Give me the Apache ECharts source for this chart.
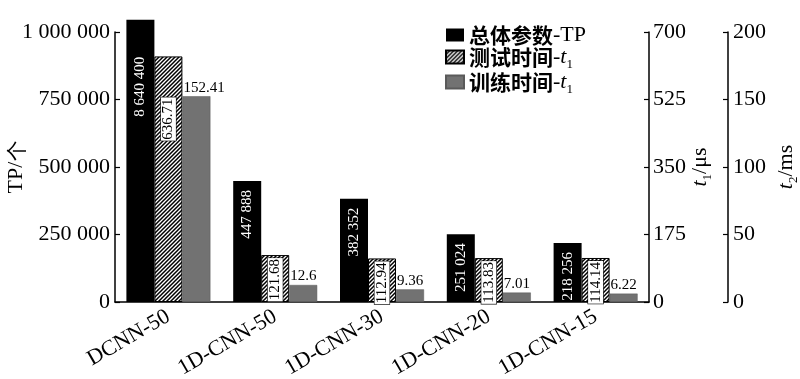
<!DOCTYPE html>
<html>
<head>
<meta charset="utf-8">
<script src="https://cdn.jsdelivr.net/npm/echarts@6/dist/echarts.min.js"></script>
<style>html,body{margin:0;padding:0;background:#fff}#c{width:800px;height:379px}</style>
</head>
<body>
<div id="c"></div>
<script>
const categories = ['DCNN-50', '1D-CNN-50', '1D-CNN-30', '1D-CNN-20', '1D-CNN-15'];
const tpValues = [8640400, 447888, 382352, 251024, 218256];
const testTimes = [636.71, 121.68, 112.94, 113.83, 114.14];
const trainTimes = [152.41, 12.6, 9.36, 7.01, 6.22];
const seriesNames = ['总体参数-TP', '测试时间-t1', '训练时间-t1'];
const tpTicks = [0, 250000, 500000, 750000, 1000000];
const t1Ticks = [0, 175, 350, 525, 700];
const t2Ticks = [0, 50, 100, 150, 200];
const tpDrawCap = 1045000; // off-scale bar is drawn truncated just above the axis top

const SERIF = '"Liberation Serif", "Times New Roman", serif';
const CJK = '"Noto Sans CJK SC", sans-serif';

function fmtSpace(v) { return String(v).replace(/\B(?=(\d{3})+(?!\d))/g, ' '); }

function makeHatch() {
  const s = 4;
  const c = document.createElement('canvas');
  c.width = s; c.height = s;
  const g = c.getContext('2d');
  g.fillStyle = '#fff'; g.fillRect(0, 0, s, s);
  g.strokeStyle = '#000'; g.lineWidth = 1.5;
  g.beginPath();
  g.moveTo(0, s); g.lineTo(s, 0);
  g.moveTo(-1, 1); g.lineTo(1, -1);
  g.moveTo(s - 1, s + 1); g.lineTo(s + 1, s - 1);
  g.stroke();
  return c;
}
const hatch = { image: makeHatch(), repeat: 'repeat' };

const chart = echarts.init(document.getElementById('c'), null, { renderer: 'canvas' });

const axisCommon = {
  type: 'value',
  axisLine: { show: true, lineStyle: { color: '#000', width: 1.5 } },
  axisTick: { show: true, inside: true, length: 5, lineStyle: { color: '#000', width: 1.2 } },
  splitLine: { show: false },
  axisLabel: { color: '#000', fontFamily: SERIF, fontSize: 22 },
  nameLocation: 'middle',
  nameRotate: 90,
  nameMoveOverlap: false
};

const legendRich = {
  cn: { fontFamily: CJK, fontWeight: 'bold', fontSize: 21, color: '#000', lineHeight: 28 },
  en: { fontFamily: SERIF, fontSize: 22, color: '#000', lineHeight: 28 },
  it: { fontFamily: SERIF, fontStyle: 'italic', fontSize: 22, color: '#000', lineHeight: 28 },
  sub: { fontFamily: SERIF, fontSize: 13, color: '#000', lineHeight: 13, verticalAlign: 'bottom' }
};

const nameRich = {
  it: { fontFamily: SERIF, fontStyle: 'italic', fontSize: 22, color: '#000', lineHeight: 28 },
  sub: { fontFamily: SERIF, fontSize: 13, color: '#000', lineHeight: 13, verticalAlign: 'bottom' },
  n: { fontFamily: SERIF, fontSize: 22, color: '#000', lineHeight: 28 }
};

const option = {
  animation: false,
  backgroundColor: '#fff',
  grid: { left: 115, right: 151, top: 32, bottom: 77, containLabel: false, outerBoundsMode: 'none' },
  legend: {
    orient: 'vertical',
    left: 440,
    top: 19,
    itemWidth: 18,
    itemHeight: 13,
    itemGap: 0,
    icon: 'rect',
    data: seriesNames,
    formatter: function (name) {
      const parts = name.split('-');
      if (parts[1] === 'TP') return '{cn|' + parts[0] + '}{en|-TP}';
      return '{cn|' + parts[0] + '}{en|-}{it|t}{sub|1}';
    },
    textStyle: { rich: legendRich }
  },
  xAxis: {
    type: 'category',
    data: categories,
    axisLine: { show: true, onZero: false, lineStyle: { color: '#000', width: 1.5 } },
    axisTick: { show: false },
    axisLabel: { color: '#000', fontFamily: SERIF, fontSize: 22, rotate: 30, margin: 13, interval: 0 }
  },
  yAxis: [
    Object.assign({}, axisCommon, {
      position: 'left',
      min: tpTicks[0], max: tpTicks[tpTicks.length - 1], interval: tpTicks[1] - tpTicks[0],
      axisLabel: Object.assign({}, axisCommon.axisLabel, { margin: 5, formatter: fmtSpace }),
      name: '{a|TP/}{b|个}',
      nameGap: 88,
      nameTextStyle: { rich: {
        a: { fontFamily: SERIF, fontSize: 22, color: '#000' },
        b: { fontFamily: CJK, fontSize: 21, color: '#000' }
      } }
    }),
    Object.assign({}, axisCommon, {
      position: 'right',
      min: t1Ticks[0], max: t1Ticks[t1Ticks.length - 1], interval: t1Ticks[1] - t1Ticks[0],
      axisLabel: Object.assign({}, axisCommon.axisLabel, { margin: 4 }),
      name: '{it|t}{sub|1}{n|/μs}',
      nameGap: 37,
      nameTextStyle: { rich: nameRich }
    }),
    Object.assign({}, axisCommon, {
      position: 'right',
      offset: 79,
      min: t2Ticks[0], max: t2Ticks[t2Ticks.length - 1], interval: t2Ticks[1] - t2Ticks[0],
      axisLabel: Object.assign({}, axisCommon.axisLabel, { margin: 5 }),
      name: '{it|t}{sub|2}{n|/ms}',
      nameGap: 44,
      nameTextStyle: { rich: nameRich }
    })
  ],
  series: [
    {
      name: seriesNames[0],
      type: 'bar',
      yAxisIndex: 0,
      barWidth: 28,
      barGap: '0%',
      clip: false,
      itemStyle: { color: '#000' },
      data: tpValues.map(function (v) {
        const capped = v > tpDrawCap;
        return { value: Math.min(v, tpDrawCap), label: { distance: capped ? 37 : 9 } };
      }),
      label: {
        show: true,
        position: 'insideTop',
        rotate: 90,
        align: 'right',
        verticalAlign: 'middle',
        color: '#fff',
        fontFamily: SERIF,
        fontSize: 15,
        formatter: function (p) { return fmtSpace(tpValues[p.dataIndex]); }
      }
    },
    {
      name: seriesNames[1],
      type: 'bar',
      yAxisIndex: 1,
      barWidth: 28,
      barGap: '0%',
      itemStyle: { color: hatch, borderColor: '#000', borderWidth: 1 },
      data: testTimes.map(function (v, i) {
        return { value: v, label: { distance: i === 0 ? 41 : 3 } };
      }),
      label: {
        show: true,
        position: 'insideTop',
        rotate: 90,
        align: 'right',
        verticalAlign: 'middle',
        color: '#000',
        fontFamily: SERIF,
        fontSize: 15,
        backgroundColor: '#fff',
        borderColor: '#000',
        borderWidth: 0.6,
        padding: [0, 1, 0, 1],
        formatter: function (p) { return String(testTimes[p.dataIndex]); }
      }
    },
    {
      name: seriesNames[2],
      type: 'bar',
      yAxisIndex: 2,
      barWidth: 28,
      barGap: '0%',
      itemStyle: { color: '#727272', borderColor: '#5a5a5a', borderWidth: 0.5 },
      data: trainTimes,
      label: {
        show: true,
        position: 'top',
        distance: 1,
        align: 'left',
        offset: [-13, 0],
        color: '#000',
        fontFamily: SERIF,
        fontSize: 15,
        formatter: function (p) { return String(trainTimes[p.dataIndex]); }
      }
    }
  ]
};
chart.setOption(option);
</script>
</body>
</html>
